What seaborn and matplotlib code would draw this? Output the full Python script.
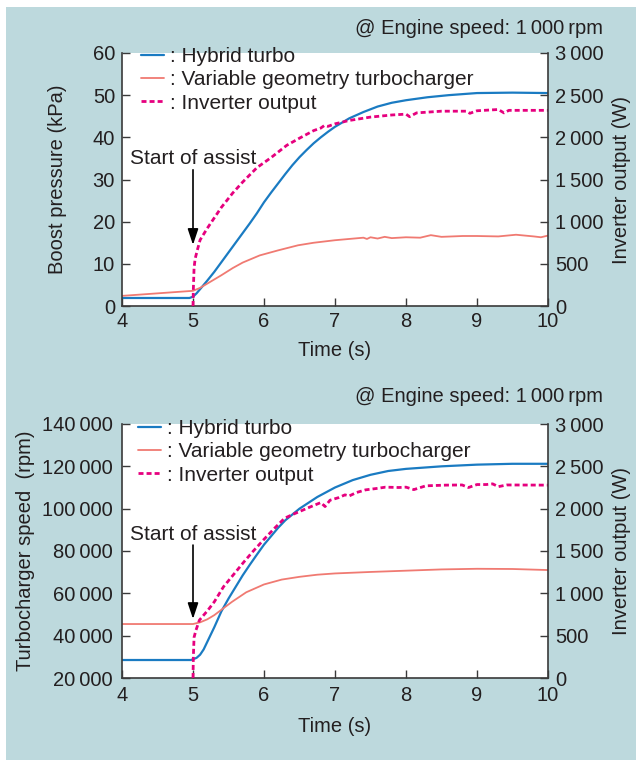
import matplotlib
matplotlib.use("Agg")
import matplotlib.pyplot as plt
import seaborn as sns
import pandas as pd
from matplotlib.ticker import FuncFormatter, MultipleLocator
from matplotlib.patches import Rectangle
from matplotlib.lines import Line2D

# ---------------- data: top panel (boost pressure) ----------------
top_hybrid_t = [4.0, 4.5, 4.95, 5.0, 5.05, 5.1, 5.2, 5.3, 5.4, 5.5, 5.6, 5.7, 5.8, 5.9,
                6.0, 6.1, 6.2, 6.3, 6.4, 6.5, 6.6, 6.7, 6.8, 6.9, 7.0, 7.2, 7.4, 7.6,
                7.8, 8.0, 8.3, 8.6, 9.0, 9.5, 10.0]
top_hybrid_kpa = [1.9, 1.9, 1.9, 2.2, 3.0, 4.0, 6.0, 8.1, 10.4, 12.7, 15.0, 17.3, 19.6, 22.0,
                  24.6, 26.9, 29.1, 31.3, 33.4, 35.3, 37.0, 38.6, 40.0, 41.3, 42.5, 44.5, 46.0, 47.3,
                  48.2, 48.8, 49.5, 50.0, 50.5, 50.6, 50.5]

top_vgt_t = [4.0, 4.5, 5.0, 5.1, 5.2, 5.3, 5.4, 5.56, 5.7, 5.94, 6.2, 6.48, 6.7, 7.0, 7.2,
             7.4, 7.45, 7.5, 7.6, 7.7, 7.8, 8.0, 8.2, 8.35, 8.5, 8.8, 9.0, 9.3, 9.55, 9.8,
             9.9, 10.0]
top_vgt_kpa = [2.4, 3.0, 3.6, 4.3, 5.3, 6.3, 7.3, 9.0, 10.3, 12.0, 13.2, 14.4, 15.0, 15.6, 15.9,
               16.2, 15.9, 16.3, 16.0, 16.4, 16.1, 16.3, 16.2, 16.8, 16.4, 16.6, 16.6, 16.5, 16.9, 16.5,
               16.3, 16.7]

top_inv_t = [5.0, 5.005, 5.015, 5.03, 5.06, 5.1, 5.2, 5.28, 5.4, 5.56, 5.7, 5.9, 6.1, 6.32,
             6.5, 6.7, 6.8, 6.85, 6.9, 7.0, 7.2, 7.5, 7.8, 8.0, 8.05, 8.15, 8.5, 8.85, 8.9,
             9.0, 9.3, 9.38, 9.45, 10.0]
top_inv_w = [0, 200, 450, 560, 660, 783, 920, 1020, 1170, 1340, 1470, 1640, 1760, 1905,
             1990, 2080, 2110, 2140, 2130, 2160, 2200, 2240, 2265, 2275, 2245, 2290, 2310, 2310, 2285,
             2315, 2330, 2290, 2320, 2320]

# ---------------- data: bottom panel (turbocharger speed) ----------------
bot_hybrid_t = [4.0, 4.5, 4.97, 5.05, 5.1, 5.15, 5.2, 5.3, 5.4, 5.5, 5.6, 5.7, 5.8, 5.9, 6.0,
                6.1, 6.2, 6.3, 6.5, 6.75, 7.0, 7.25, 7.5, 7.75, 8.0, 8.5, 9.0, 9.5, 10.0]
bot_hybrid_rpm = [28500, 28500, 28500, 29500, 31000, 33500, 37000, 44000, 51500, 57500, 63000,
                  68500, 73500, 78300, 83000, 87000, 91000, 94500, 100000, 105500, 110000,
                  113500, 116000, 117800, 118800, 120000, 120800, 121200, 121200]

bot_vgt_t = [4.0, 5.0, 5.1, 5.2, 5.3, 5.43, 5.55, 5.75, 6.0, 6.25, 6.5, 6.75, 7.0, 7.5, 8.0,
             8.5, 9.0, 9.5, 10.0]
bot_vgt_rpm = [45500, 45500, 46300, 47700, 49700, 53000, 56000, 60500, 64200, 66500, 67800,
               68800, 69400, 70100, 70700, 71300, 71600, 71500, 71000]

bot_inv_t = [5.0, 5.005, 5.015, 5.04, 5.09, 5.21, 5.3, 5.43, 5.55, 5.72, 5.85, 6.0, 6.15, 6.29,
             6.4, 6.5, 6.65, 6.8, 6.86, 6.93, 7.05, 7.14, 7.2, 7.3, 7.43, 7.6, 7.71, 7.9, 8.0,
             8.11, 8.28, 8.56, 8.79, 8.88, 9.0, 9.13, 9.22, 9.3, 9.42, 10.0]
bot_inv_w = [0, 250, 480, 560, 683, 801, 900, 1078, 1200, 1374, 1500, 1638, 1770, 1887,
             1930, 1966, 2020, 2072, 2025, 2100, 2130, 2163, 2150, 2190, 2222, 2240, 2254, 2250, 2254,
             2225, 2270, 2278, 2280, 2250, 2285, 2285, 2293, 2260, 2280, 2278]

legend_labels = [": Hybrid turbo", ": Variable geometry turbocharger", ": Inverter output"]
note_text = "@ Engine speed: 1\u2009000\u2009rpm"
assist_text = "Start of assist"

# ---------------- style ----------------
BG = "#BDD9DD"
C_HYB = "#1A7BC2"
C_VGT = "#F07A72"
C_INV = "#E6007E"
TXT = "#231F20"
SPINE = "#3A3A3A"
FS = 14.5

sns.set_theme(style="ticks")
plt.rcParams["font.family"] = ["Liberation Sans", "DejaVu Sans"]
plt.rcParams["text.color"] = TXT
plt.rcParams["axes.labelcolor"] = TXT

thousands = FuncFormatter(lambda v, p: f"{int(round(v)):,}".replace(",", "\u2009"))

fig = plt.figure(figsize=(6.36, 7.6), dpi=100, facecolor="white")
fig.patches.append(Rectangle((6 / 636, 0), 1 - 6 / 636, 1 - 7 / 760,
                             transform=fig.transFigure, facecolor=BG,
                             edgecolor="none", zorder=-5))


def panel(rect, ht, hv, vt, vv, it, iw, ylim, ystep, ylabel, ylabel_x, xlabel_y,
          xpad, ypad, arrow_from, arrow_to, text_y, leg_y, leg_x, note_y):
    ax = fig.add_axes(rect)
    ax.set_facecolor("white")
    ax2 = ax.twinx()
    sns.lineplot(x=ht, y=hv, ax=ax, color=C_HYB, lw=1.6, sort=False, estimator=None)
    sns.lineplot(x=vt, y=vv, ax=ax, color=C_VGT, lw=1.3, sort=False, estimator=None)
    sns.lineplot(x=it, y=iw, ax=ax2, color=C_INV, lw=2.0, sort=False, estimator=None,
                 linestyle=(0, (1.8, 1.1)))
    ax.set_xlim(4, 10)
    ax.set_ylim(*ylim)
    ax2.set_ylim(0, 3000)
    ax.xaxis.set_major_locator(MultipleLocator(1))
    ax.yaxis.set_major_locator(MultipleLocator(ystep))
    ax2.yaxis.set_major_locator(MultipleLocator(500))
    ax.yaxis.set_major_formatter(thousands)
    ax2.yaxis.set_major_formatter(thousands)

    for a in (ax, ax2):
        a.spines["top"].set_visible(False)
        for s in a.spines.values():
            s.set_color(SPINE)
            s.set_linewidth(1.2)
    ax.spines["right"].set_visible(False)
    ax2.spines["left"].set_visible(False)
    ax2.spines["bottom"].set_visible(False)

    ax.tick_params(axis="x", direction="in", length=6, width=1, color=SPINE,
                   labelsize=FS, labelcolor=TXT, pad=xpad)
    ax.tick_params(axis="y", direction="in", length=6, width=1, color=SPINE,
                   labelsize=FS, labelcolor=TXT, pad=ypad)
    ax2.tick_params(axis="y", direction="in", length=6, width=1, color=SPINE,
                    labelsize=FS, labelcolor=TXT, pad=5)

    ax.set_xlabel("Time (s)", fontsize=FS)
    ax.xaxis.set_label_coords(0.5, xlabel_y)
    ax.set_ylabel(ylabel, fontsize=FS)
    ax.yaxis.set_label_coords(ylabel_x, 0.5)
    ax2.set_ylabel("Inverter output (W)", fontsize=FS)
    ax2.yaxis.set_label_coords(1.15, 0.5)

    ax.annotate("", xy=(5, arrow_to), xytext=(5, arrow_from),
                arrowprops=dict(arrowstyle="-|>,head_length=0.6,head_width=0.2",
                                color="black", lw=1.2, mutation_scale=16,
                                shrinkA=0, shrinkB=0), zorder=5)
    ax.text(5.0, text_y, assist_text, ha="center", va="center", fontsize=15, color=TXT)

    handles = [Line2D([], [], color=C_HYB, lw=1.6),
               Line2D([], [], color=C_VGT, lw=1.3),
               Line2D([], [], color=C_INV, lw=2.0, linestyle=(0, (1.8, 1.1)))]
    for a in (ax, ax2):
        lg = a.get_legend()
        if lg is not None:
            lg.remove()
    ax2.legend(handles, legend_labels, loc="upper left", bbox_to_anchor=(leg_x, leg_y),
               frameon=False, fontsize=15, handlelength=1.1, handletextpad=0.3,
               labelspacing=0.21, borderpad=0, borderaxespad=0)

    fig.text(603 / 636, note_y, note_text, ha="right", va="center", fontsize=FS, color=TXT)
    return ax, ax2


# top panel: axes from px 122..548 (x), 53..306 (y)
panel([122 / 636, 1 - 306 / 760, 426 / 636, 253 / 760],
      top_hybrid_t, top_hybrid_kpa, top_vgt_t, top_vgt_kpa, top_inv_t, top_inv_w,
      (0, 60), 10, "Boost pressure (kPa)", -0.128, -0.14, 4.5, 5,
      32.3, 14.5, 35.0, 1.024, 0.045, 1 - 28 / 760)

# bottom panel: axes from px 122..548 (x), 424..678 (y)
panel([122 / 636, 1 - 678 / 760, 426 / 636, 254 / 760],
      bot_hybrid_t, bot_hybrid_rpm, bot_vgt_t, bot_vgt_rpm, bot_inv_t, bot_inv_w,
      (20000, 140000), 20000, "Turbocharger speed  (rpm)", -0.205, -0.152, 6, 6.5,
      82800, 47900, 87600, 1.02, 0.037, 1 - 397 / 760)

fig.savefig("out.png", dpi=100, facecolor="white")
